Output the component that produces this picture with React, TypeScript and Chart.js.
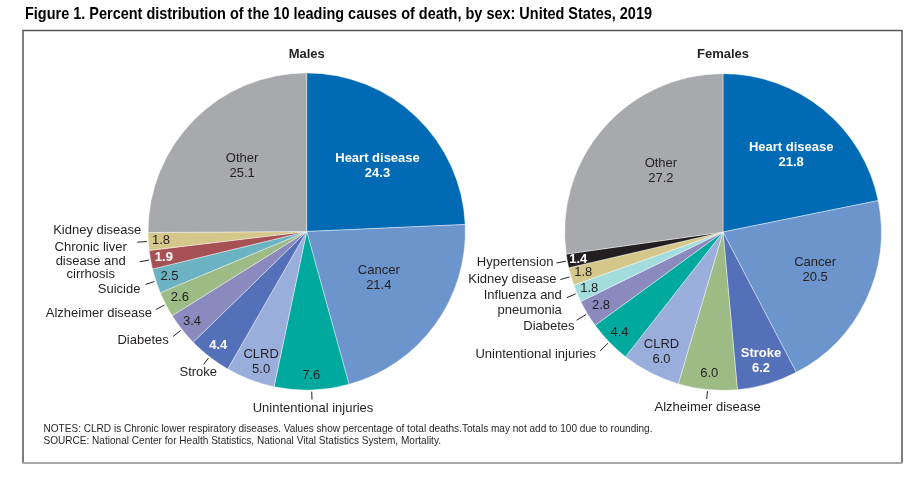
import React, { useEffect, useRef } from 'react';
import { Chart, registerables } from 'chart.js';

Chart.register(...registerables);

const W = 919;
const H = 485;

// ---------- data ----------
const titleText =
  'Figure 1. Percent distribution of the 10 leading causes of death, by sex: United States, 2019';
const notesText =
  'NOTES: CLRD is Chronic lower respiratory diseases. Values show percentage of total deaths.Totals may not add to 100 due to rounding.';
const sourceText = 'SOURCE: National Center for Health Statistics, National Vital Statistics System, Mortality.';

const maleCategories = [
  'Heart disease',
  'Cancer',
  'Unintentional injuries',
  'CLRD',
  'Stroke',
  'Diabetes',
  'Alzheimer disease',
  'Suicide',
  'Chronic liver disease and cirrhosis',
  'Kidney disease',
  'Other',
];
const maleValues = [24.3, 21.4, 7.6, 5.0, 4.4, 3.4, 2.6, 2.5, 1.9, 1.8, 25.1];

const femaleCategories = [
  'Heart disease',
  'Cancer',
  'Stroke',
  'Alzheimer disease',
  'CLRD',
  'Unintentional injuries',
  'Diabetes',
  'Influenza and pneumonia',
  'Kidney disease',
  'Hypertension',
  'Other',
];
const femaleValues = [21.8, 20.5, 6.2, 6.0, 6.0, 4.4, 2.8, 1.8, 1.8, 1.4, 27.2];

// ---------- styles ----------
const causeColors: Record<string, string> = {
  'Heart disease': '#006BB4',
  Cancer: '#6B95CC',
  'Unintentional injuries': '#00A99D',
  CLRD: '#9AAEDB',
  Stroke: '#5470B8',
  Diabetes: '#8A8ABF',
  'Alzheimer disease': '#9DBB84',
  Suicide: '#6BB3C3',
  'Chronic liver disease and cirrhosis': '#A65154',
  'Kidney disease': '#D5C68A',
  'Influenza and pneumonia': '#A3DCDC',
  Hypertension: '#231F20',
  Other: '#A7A9AC',
};

const DARK = '#231F20';
const FONT = '"Liberation Sans", Arial, Helvetica, sans-serif';
const NARROW = '"Liberation Sans Narrow", "Arial Narrow", "Liberation Sans", Arial, sans-serif';

type LabelSpec = {
  name?: string; // name shown inside the slice
  r: number; // radial fraction for inside label
  da?: number; // angle tweak (deg)
  white?: boolean;
  ext?: string[]; // external label lines
  k?: number; // leader end radius multiple
  dx?: number;
  dy?: number;
  align?: 'right' | 'center';
  lh?: number;
};

const maleLayout: LabelSpec[] = [
  { name: 'Heart disease', r: 0.61, da: 3.3, white: true },
  { name: 'Cancer', r: 0.54, da: -3.3 },
  { r: 0.91, ext: ['Unintentional injuries'], k: 1.06, dx: 1, dy: 8.5, align: 'center' },
  { name: 'CLRD', r: 0.87, da: -1.6 },
  { r: 0.91, white: true, ext: ['Stroke'], k: 1.06, dx: -5.4, dy: 8.4, align: 'center' },
  { r: 0.92, ext: ['Diabetes'], k: 1.07, dx: -4.5, dy: 4 },
  { r: 0.9, ext: ['Alzheimer disease'], k: 1.07, dx: -4, dy: 3.5 },
  { r: 0.91, ext: ['Suicide'], k: 1.07, dx: -5, dy: 5 },
  { r: 0.915, white: true, ext: ['Chronic liver', 'disease and', 'cirrhosis'], k: 1.07, dx: -49, dy: -14, align: 'center', lh: 13.5 },
  { r: 0.92, ext: ['Kidney disease'], k: 1.07, dx: 4, dy: -12 },
  { name: 'Other', r: 0.58, da: 0.6 },
];

const femaleLayout: LabelSpec[] = [
  { name: 'Heart disease', r: 0.65, da: 2.2, white: true },
  { name: 'Cancer', r: 0.63, da: -3 },
  { name: 'Stroke', r: 0.85, white: true },
  { r: 0.895, ext: ['Alzheimer disease'], k: 1.06, dx: 1, dy: 8.5, align: 'center' },
  { name: 'CLRD', r: 0.85 },
  { r: 0.91, ext: ['Unintentional injuries'], k: 1.08, dx: -4, dy: 3.5 },
  { r: 0.9, ext: ['Diabetes'], k: 1.08, dx: -2, dy: 6 },
  { r: 0.916, ext: ['Influenza and', 'pneumonia'], k: 1.07, dx: -5, dy: -2.5, lh: 15.5 },
  { r: 0.92, ext: ['Kidney disease'], k: 1.07, dx: -4, dy: 0 },
  { r: 0.93, white: true, ext: ['Hypertension'], k: 1.07, dx: -3, dy: -1 },
  { name: 'Other', r: 0.55, da: 3.5 },
];

function makeLabelPlugin(title: string, values: number[], layout: LabelSpec[]) {
  return {
    id: 'pieLabels',
    afterDatasetsDraw(chart: any) {
      const ctx: CanvasRenderingContext2D = chart.ctx;
      const meta = chart.getDatasetMeta(0);
      ctx.save();
      let cx = 0;
      meta.data.forEach((arc: any, i: number) => {
        const p = arc.getProps(['x', 'y', 'startAngle', 'endAngle', 'outerRadius'], true);
        cx = p.x;
        const L = layout[i];
        const mid = (p.startAngle + p.endAngle) / 2;
        const a = mid + ((L.da || 0) * Math.PI) / 180;
        const lx = p.x + Math.cos(a) * p.outerRadius * L.r;
        const ly = p.y + Math.sin(a) * p.outerRadius * L.r;
        const lines = L.name ? [L.name, values[i].toFixed(1)] : [values[i].toFixed(1)];
        ctx.fillStyle = L.white ? '#FFFFFF' : DARK;
        ctx.font = (L.white ? 'bold ' : '') + '13px ' + FONT;
        ctx.textAlign = 'center';
        ctx.textBaseline = 'middle';
        const lh = 15;
        lines.forEach((t, j) => {
          ctx.fillText(t, lx, ly - ((lines.length - 1) * lh) / 2 + j * lh);
        });
        if (L.ext) {
          const k = L.k || 1.07;
          const sx = p.x + Math.cos(mid) * p.outerRadius * 1.01;
          const sy = p.y + Math.sin(mid) * p.outerRadius * 1.01;
          const ex = p.x + Math.cos(mid) * p.outerRadius * k;
          const ey = p.y + Math.sin(mid) * p.outerRadius * k;
          ctx.strokeStyle = DARK;
          ctx.lineWidth = 1;
          ctx.beginPath();
          ctx.moveTo(sx, sy);
          ctx.lineTo(ex, ey);
          ctx.stroke();
          ctx.fillStyle = DARK;
          ctx.font = '13px ' + FONT;
          ctx.textAlign = L.align || 'right';
          ctx.textBaseline = 'middle';
          const elh = L.lh || 13.5;
          L.ext.forEach((t, j) => {
            ctx.fillText(t, ex + (L.dx || 0), ey + (L.dy || 0) + j * elh);
          });
        }
      });
      // pie title
      ctx.fillStyle = DARK;
      ctx.font = 'bold 13px ' + FONT;
      ctx.textAlign = 'center';
      ctx.textBaseline = 'middle';
      ctx.fillText(title, cx, 54.5);
      ctx.restore();
    },
  };
}

const framePlugin = {
  id: 'frame',
  beforeDraw(chart: any) {
    const ctx: CanvasRenderingContext2D = chart.ctx;
    ctx.save();
    ctx.fillStyle = '#FFFFFF';
    ctx.fillRect(0, 0, W, H);
    // box
    ctx.strokeStyle = '#555555';
    ctx.lineWidth = 1.5;
    ctx.beginPath();
    ctx.moveTo(23, 463);
    ctx.lineTo(23, 30.5);
    ctx.lineTo(902, 30.5);
    ctx.lineTo(902, 463);
    ctx.stroke();
    ctx.strokeStyle = '#A8A8A8';
    ctx.lineWidth = 2;
    ctx.beginPath();
    ctx.moveTo(22.5, 463);
    ctx.lineTo(902.5, 463);
    ctx.stroke();
    // title
    ctx.fillStyle = '#000000';
    ctx.font = 'bold 16.5px ' + NARROW;
    ctx.textAlign = 'left';
    ctx.textBaseline = 'alphabetic';
    const tw = ctx.measureText(titleText).width;
    ctx.save();
    ctx.translate(25, 18.5);
    ctx.scale(627 / tw, 1);
    ctx.fillText(titleText, 0, 0);
    ctx.restore();
    // notes
    ctx.fillStyle = DARK;
    ctx.font = '10.5px ' + FONT;
    ctx.textBaseline = 'middle';
    const nw = ctx.measureText(notesText).width;
    const s = 609 / nw;
    ctx.save();
    ctx.translate(43.5, 429);
    ctx.scale(s, 1);
    ctx.fillText(notesText, 0, 0);
    ctx.restore();
    ctx.save();
    ctx.translate(43.5, 441);
    ctx.scale(s, 1);
    ctx.fillText(sourceText, 0, 0);
    ctx.restore();
    ctx.restore();
  },
};

function pieConfig(
  categories: string[],
  values: number[],
  padding: { left: number; right: number; top: number; bottom: number },
  plugins: any[]
): any {
  return {
    type: 'pie',
    data: {
      labels: categories,
      datasets: [
        {
          data: values,
          backgroundColor: categories.map((c) => causeColors[c]),
          borderColor: 'rgba(255,255,255,0.55)',
          borderWidth: 0.75,
        },
      ],
    },
    options: {
      responsive: false,
      animation: false,
      devicePixelRatio: 1,
      events: [],
      layout: { padding },
      plugins: {
        legend: { display: false },
        tooltip: { enabled: false },
        title: { display: false },
      },
    },
    plugins,
  };
}

export default function App() {
  const maleRef = useRef<HTMLCanvasElement>(null);
  const femaleRef = useRef<HTMLCanvasElement>(null);

  useEffect(() => {
    if (!maleRef.current || !femaleRef.current) return;
    const male = new Chart(
      maleRef.current,
      pieConfig(
        maleCategories,
        maleValues,
        { left: 147.7, right: 453.3, top: 72.5, bottom: 94.5 },
        [framePlugin, makeLabelPlugin('Males', maleValues, maleLayout)]
      )
    );
    const female = new Chart(
      femaleRef.current,
      pieConfig(
        femaleCategories,
        femaleValues,
        { left: 564.3, right: 37.3, top: 73.3, bottom: 94.3 },
        [makeLabelPlugin('Females', femaleValues, femaleLayout)]
      )
    );
    return () => {
      male.destroy();
      female.destroy();
    };
  }, []);

  const cstyle: React.CSSProperties = { position: 'absolute', left: 0, top: 0, width: W, height: H };
  return (
    <div style={{ position: 'absolute', left: 0, top: 0, width: W, height: H, background: '#fff' }}>
      <canvas ref={maleRef} width={W} height={H} style={cstyle} />
      <canvas ref={femaleRef} width={W} height={H} style={cstyle} />
    </div>
  );
}
